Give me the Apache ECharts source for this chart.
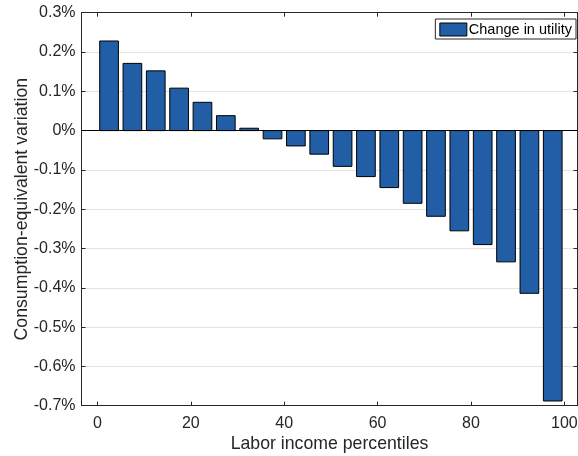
<!DOCTYPE html>
<html>
<head>
<meta charset="utf-8">
<script src="https://cdn.jsdelivr.net/npm/echarts@6/dist/echarts.min.js"></script>
<style>
  html, body { margin: 0; padding: 0; background: #fff; }
  #chart { width: 578px; height: 456px; }
</style>
</head>
<body>
<div id="chart"></div>
<script>
// Bin centres of the labor income percentile groups (5-point bins)
const percentiles = [2.5, 7.5, 12.5, 17.5, 22.5, 27.5, 32.5, 37.5, 42.5, 47.5,
                     52.5, 57.5, 62.5, 67.5, 72.5, 77.5, 82.5, 87.5, 92.5, 97.5];
// Consumption-equivalent change in utility, in percent
const utilityChange = [0.228, 0.171, 0.152, 0.108, 0.072, 0.038, 0.006, -0.021, -0.039, -0.060,
                       -0.091, -0.117, -0.145, -0.185, -0.218, -0.255, -0.290, -0.334, -0.414, -0.688];
const xTicks = [0, 20, 40, 60, 80, 100];
const seriesName = 'Change in utility';

const FONT = "'Liberation Sans', Arial, Helvetica, sans-serif";
const AXIS = '#262626';
const BAR = '#215ea6';
const HALF_WIDTH = 2; // bar half-width in axis units

const X_MIN = -3.4, X_MAX = 102.8;

const chart = echarts.init(document.getElementById('chart'), null, { renderer: 'canvas' });

const xCommon = {
  type: 'value',
  min: X_MIN,
  max: X_MAX,
  axisLine: { show: true, onZero: false, lineStyle: { color: AXIS, width: 1 } },
  axisTick: { show: true, inside: true, length: 4, customValues: xTicks, lineStyle: { color: AXIS } },
  splitLine: { show: false }
};

const yCommon = {
  type: 'value',
  min: -0.7,
  max: 0.3,
  interval: 0.1,
  axisLine: { show: true, onZero: false, lineStyle: { color: AXIS, width: 1 } },
  axisTick: { show: true, inside: true, length: 4, lineStyle: { color: AXIS } }
};

chart.setOption({
  animation: false,
  backgroundColor: '#fff',
  textStyle: { fontFamily: FONT },
  grid: {
    left: 81.5, right: 0.5, top: 12.7, bottom: 50.3,
    containLabel: false,
    outerBoundsMode: 'none'
  },
  legend: {
    right: 2,
    top: 19,
    padding: [3, 4, 2, 4],
    backgroundColor: '#fff',
    borderColor: AXIS,
    borderWidth: 1,
    borderRadius: 0,
    icon: 'rect',
    itemWidth: 27,
    itemHeight: 13,
    itemStyle: { color: BAR, borderColor: '#000', borderWidth: 1 },
    textStyle: { fontFamily: FONT, fontSize: 14.5, color: '#000', padding: [0, 0, 0, -3] },
    data: [seriesName]
  },
  xAxis: [
    Object.assign({}, xCommon, {
      position: 'bottom',
      axisLabel: { show: true, customValues: xTicks, margin: 10, fontFamily: FONT, fontSize: 16, color: AXIS },
      name: 'Labor income percentiles',
      nameLocation: 'middle',
      nameGap: 29,
      nameMoveOverlap: false,
      nameTextStyle: { fontFamily: FONT, fontSize: 17.7, color: AXIS }
    }),
    Object.assign({}, xCommon, {
      position: 'top',
      axisLabel: { show: false }
    })
  ],
  yAxis: [
    Object.assign({}, yCommon, {
      position: 'left',
      splitLine: { show: true, lineStyle: { color: '#e2e2e2', width: 1 } },
      axisLabel: {
        show: true, margin: 6, fontFamily: FONT, fontSize: 16, color: AXIS,
        padding: [5, 0, 0, 0],
        formatter: v => (Math.round(v * 10) / 10) + '%'
      },
      name: 'Consumption-equivalent variation',
      nameLocation: 'middle',
      nameGap: 50,
      nameMoveOverlap: false,
      nameTextStyle: { fontFamily: FONT, fontSize: 17.7, color: AXIS }
    }),
    Object.assign({}, yCommon, {
      position: 'right',
      splitLine: { show: false },
      axisLabel: { show: false }
    })
  ],
  series: [{
    name: seriesName,
    type: 'custom',
    xAxisIndex: 0,
    yAxisIndex: 0,
    clip: true,
    itemStyle: { color: BAR, borderColor: '#000', borderWidth: 1 },
    data: percentiles.map((p, i) => [p, utilityChange[i]]),
    encode: { x: 0, y: 1 },
    renderItem: function (params, api) {
      const x = api.value(0);
      const v = api.value(1);
      const a = api.coord([x - HALF_WIDTH, 0]);
      const b = api.coord([x + HALF_WIDTH, v]);
      return {
        type: 'rect',
        shape: {
          x: a[0],
          y: Math.min(a[1], b[1]),
          width: b[0] - a[0],
          height: Math.abs(b[1] - a[1])
        },
        style: { fill: BAR, stroke: '#000', lineWidth: 1 }
      };
    },
    markLine: {
      silent: true,
      symbol: 'none',
      label: { show: false },
      lineStyle: { color: '#000', width: 1, type: 'solid' },
      data: [{ yAxis: 0 }]
    }
  }]
});
</script>
</body>
</html>
